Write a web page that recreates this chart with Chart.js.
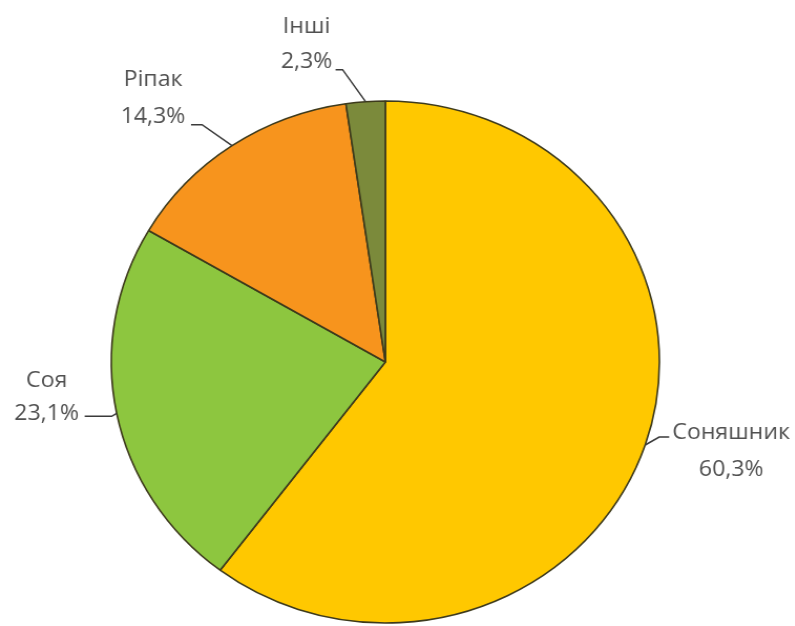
<!DOCTYPE html>
<html>
<head>
<meta charset="utf-8">
<script src="https://cdn.jsdelivr.net/npm/chart.js@4"></script>
<style>
  html, body { margin: 0; padding: 0; background: #fff; overflow: hidden; }
  #wrap { width: 795px; height: 626px; position: relative; }
  /* the source picture is slightly wider than tall, so stretch the pie horizontally */
  #pie { position: absolute; left: 0; top: 0; transform: scaleX(1.05); transform-origin: 0 0; }
</style>
</head>
<body>
<div id="wrap"><canvas id="pie" width="757" height="626"></canvas></div>
<script>
const categories = ['Соняшник', 'Соя', 'Ріпак', 'Інші'];
const shares = [60.3, 23.1, 14.3, 2.3];
const sliceColors = ['#ffc800', '#8dc63f', '#f7941d', '#7b8a3b'];

const SX = 1.05;

// leader/label layout, offsets in screen px from the slice's outer edge point
const labelLayout = [
    { elbow: [14, -8],   end: [24, -8],   text: [86, -12],  gap: 37 },
    { elbow: [-5, 3],    end: [-32, 3],   text: [-70, -33], gap: 33 },
    { elbow: [-30, -21], end: [-41, -21], text: [-79, -66], gap: 37 },
    { elbow: [-23, -32], end: [-30, -32], text: [-59, -75], gap: 35 }
];

const fmt = v => v.toFixed(1).replace('.', ',') + '%';

const sliceLabels = {
    id: 'sliceLabels',
    afterDatasetsDraw(chart) {
        const ctx = chart.ctx;
        const arcs = chart.getDatasetMeta(0).data;
        ctx.save();
        arcs.forEach((arc, i) => {
            const { x, y, startAngle, endAngle, outerRadius } =
                arc.getProps(['x', 'y', 'startAngle', 'endAngle', 'outerRadius'], true);
            const mid = (startAngle + endAngle) / 2;
            const ex = x + Math.cos(mid) * outerRadius;
            const ey = y + Math.sin(mid) * outerRadius;
            const L = labelLayout[i];

            ctx.strokeStyle = '#3a3a3a';
            ctx.lineWidth = 1.5;
            ctx.beginPath();
            ctx.moveTo(ex, ey);
            ctx.lineTo(ex + L.elbow[0] / SX, ey + L.elbow[1]);
            ctx.lineTo(ex + L.end[0] / SX, ey + L.end[1]);
            ctx.stroke();

            ctx.fillStyle = '#505050';
            ctx.font = '22px "Open Sans", sans-serif';
            ctx.textAlign = 'center';
            ctx.textBaseline = 'middle';
            const tx = ex + L.text[0] / SX;
            const ty = ey + L.text[1];
            ctx.fillText(categories[i], tx, ty);
            ctx.fillText(fmt(shares[i]), tx, ty + L.gap);
        });
        ctx.restore();
    }
};

new Chart(document.getElementById('pie'), {
    type: 'pie',
    data: {
        labels: categories,
        datasets: [{
            data: shares,
            backgroundColor: sliceColors,
            borderColor: '#3d3a1c',
            borderWidth: 1.6
        }]
    },
    options: {
        responsive: false,
        animation: false,
        radius: 261,
        layout: { padding: { top: 98, bottom: 0, left: 0, right: 23 } },
        plugins: {
            legend: { display: false },
            tooltip: { enabled: false }
        }
    },
    plugins: [sliceLabels]
});
</script>
</body>
</html>
